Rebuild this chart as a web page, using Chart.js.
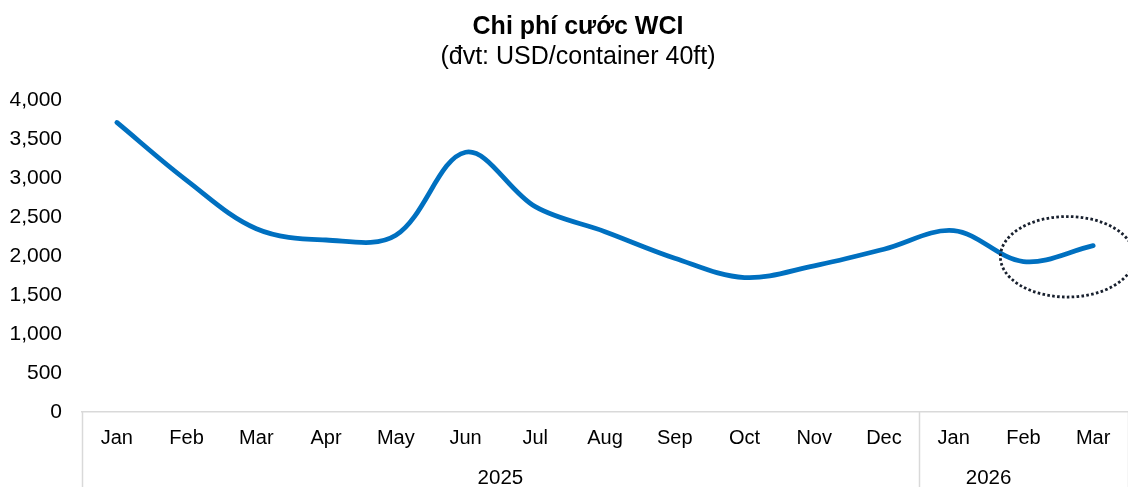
<!DOCTYPE html>
<html>
<head>
<meta charset="utf-8">
<script src="https://cdn.jsdelivr.net/npm/chart.js@4.4.1/dist/chart.umd.min.js"></script>
<style>
  html, body { margin: 0; padding: 0; background: #ffffff; }
  canvas { display: block; }
</style>
</head>
<body>
<canvas id="c" width="1128" height="487"></canvas>
<script>
// ---- Data ----
const months = ['Jan','Feb','Mar','Apr','May','Jun','Jul','Aug','Sep','Oct','Nov','Dec','Jan','Feb','Mar'];
const wciValues = [3712, 2970, 2350, 2205, 2265, 3330, 2632, 2312, 1972, 1724, 1874, 2087, 2325, 1929, 2133];
const years = ['2025', '2026'];
const yearStartIndex = [0, 12];
const yearMonthCount = [12, 3];
const yTicks = [0, 500, 1000, 1500, 2000, 2500, 3000, 3500, 4000];
const titleText = 'Chi phí cước WCI';
const subtitleText = '(đvt: USD/container 40ft)';

const FONT = "'Liberation Sans', Arial, sans-serif";

const decorPlugin = {
  id: 'decor',
  afterDraw(chart, args, opts) {
    const ctx = chart.ctx;
    const xs = chart.scales.x, ys = chart.scales.y;
    const H = chart.height;
    // Title & subtitle
    ctx.save();
    ctx.fillStyle = '#000';
    ctx.textAlign = 'center';
    ctx.textBaseline = 'alphabetic';
    ctx.font = 'bold 25px ' + FONT;
    ctx.fillText(titleText, opts.titleX, 34);
    ctx.font = '25px ' + FONT;
    ctx.fillText(subtitleText, opts.titleX, 64);
    ctx.restore();

    // Category group separators and year labels
    ctx.save();
    ctx.strokeStyle = '#d9d9d9';
    ctx.lineWidth = 1.5;
    const bottom = chart.chartArea.bottom;
    const bounds = [yearStartIndex[0] - 0.5];
    yearStartIndex.forEach((s, i) => bounds.push(s + yearMonthCount[i] - 0.5));
    bounds.forEach(b => {
      const px = Math.round(xs.getPixelForValue(b)) + 0.5;
      ctx.beginPath();
      ctx.moveTo(px, bottom);
      ctx.lineTo(px, H);
      ctx.stroke();
    });
    ctx.fillStyle = '#000';
    ctx.font = '20.5px ' + FONT;
    ctx.textAlign = 'center';
    ctx.textBaseline = 'alphabetic';
    years.forEach((yLabel, i) => {
      const px = xs.getPixelForValue(opts.yearLabelAt[i]);
      ctx.fillText(yLabel, px, 484);
    });
    ctx.restore();

    // Dotted ellipse highlight (in data units)
    const e = opts.ellipse;
    const cx = xs.getPixelForValue(e.cx);
    const cy = ys.getPixelForValue(e.cy);
    const rx = Math.abs(xs.getPixelForValue(e.cx + e.rx) - cx);
    const ry = Math.abs(ys.getPixelForValue(e.cy + e.ry) - cy);
    ctx.save();
    ctx.strokeStyle = '#18202e';
    ctx.lineWidth = 2.8;
    ctx.setLineDash([2.6, 2.3]);
    ctx.beginPath();
    ctx.ellipse(cx, cy, rx, ry, 0, 0, Math.PI * 2);
    ctx.stroke();
    ctx.restore();
  }
};

new Chart(document.getElementById('c'), {
  type: 'line',
  data: {
    labels: months,
    datasets: [{
      data: wciValues,
      borderColor: '#0070C0',
      borderWidth: 4.8,
      borderCapStyle: 'round',
      borderJoinStyle: 'round',
      pointRadius: 0,
      pointHoverRadius: 0,
      tension: 0.35,
      fill: false
    }]
  },
  options: {
    responsive: false,
    animation: false,
    devicePixelRatio: 1,
    layout: { padding: { top: 100, left: 0, right: 0, bottom: 0 } },
    plugins: {
      legend: { display: false },
      title: { display: false },
      tooltip: { enabled: false },
      decor: {
        titleX: 578,
        yearLabelAt: [5.5, 12.5],
        ellipse: { cx: 13.63, cy: 1990, rx: 0.96, ry: 516 }
      }
    },
    scales: {
      x: {
        type: 'category',
        offset: true,
        grid: { display: false, drawTicks: false },
        border: { display: true, color: '#d9d9d9', width: 1.5 },
        ticks: {
          color: '#000',
          font: { family: FONT, size: 20 },
          padding: 14,
          maxRotation: 0,
          autoSkip: false
        },
        afterFit(s) { s.height = 75; }
      },
      y: {
        min: 0,
        max: 4000,
        afterBuildTicks(s) { s.ticks = yTicks.map(v => ({ value: v })); },
        grid: { display: false, drawTicks: false },
        border: { display: false },
        ticks: {
          color: '#000',
          font: { family: FONT, size: 21 },
          padding: 20,
          callback: v => v.toLocaleString('en-US')
        },
        afterFit(s) { s.width = 82; }
      }
    }
  },
  plugins: [decorPlugin]
});
</script>
</body>
</html>
